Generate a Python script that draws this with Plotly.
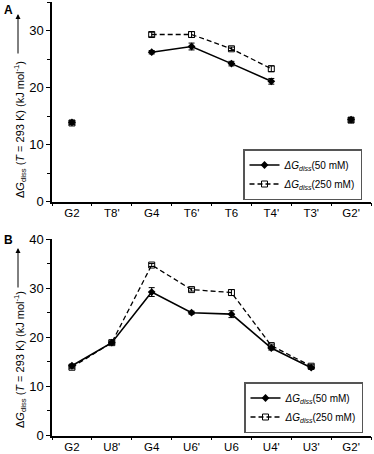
import plotly.graph_objects as go

# ---- data ----
cats_a = ["G2", "T8'", "G4", "T6'", "T6", "T4'", "T3'", "G2'"]
a_50 = [13.9, None, 26.2, 27.2, 24.2, 21.1, None, 14.4]
a_50_err = [0.3, None, 0.3, 0.6, 0.4, 0.5, None, 0.3]
a_250 = [13.8, None, 29.3, 29.3, 26.8, 23.3, None, 14.3]
a_250_err = [0.3, None, 0.4, 0.5, 0.3, 0.5, None, 0.4]

cats_b = ["G2", "U8'", "G4", "U6'", "U6", "U4'", "U3'", "G2'"]
b_50 = [14.2, 18.9, 29.2, 25.0, 24.7, 17.8, 13.8, None]
b_50_err = [0.3, 0.3, 0.9, 0.3, 0.7, 0.4, 0.3, None]
b_250 = [13.9, 18.9, 34.7, 29.7, 29.1, 18.3, 14.1, None]
b_250_err = [0.3, 0.3, 0.3, 0.3, 0.6, 0.3, 0.3, None]

yticks_a = [0, 10, 20, 30]
yticks_b = [0, 10, 20, 30, 40]

name_50 = "<i>ΔG</i><sub><i>diss</i></sub>(50 mM)"
name_250 = "<i>ΔG</i><sub><i>diss</i></sub>(250 mM)"
ytitle = "Δ<i>G</i><sub>diss</sub> (<i>T</i> = 293 K) (kJ mol<sup>-1</sup>)"

FONT = "Liberation Sans, Arial, sans-serif"
W, H = 374, 454

def px_x(p):
    return p / W

def px_y(p):
    return 1 - p / H

fig = go.Figure()

def add_pair(cats, v50, e50, v250, e250, xa, ya, leg):
    fig.add_trace(go.Scatter(
        x=cats, y=v50, name=name_50, mode="lines+markers",
        line=dict(color="black", width=1.6),
        marker=dict(symbol="diamond", size=6, color="black"),
        error_y=dict(type="data", array=e50, color="black", thickness=1, width=3),
        xaxis=xa, yaxis=ya, legend=leg, connectgaps=False,
    ))
    fig.add_trace(go.Scatter(
        x=cats, y=v250, name=name_250, mode="lines+markers",
        line=dict(color="black", width=1.3, dash="5px,3px"),
        marker=dict(symbol="square-open", size=6, color="black", line=dict(width=1)),
        error_y=dict(type="data", array=e250, color="black", thickness=1, width=3),
        xaxis=xa, yaxis=ya, legend=leg, connectgaps=False,
    ))

add_pair(cats_a, a_50, a_50_err, a_250, a_250_err, "x", "y", "legend")
add_pair(cats_b, b_50, b_50_err, b_250, b_250_err, "x2", "y2", "legend2")

xdom = [px_x(52), px_x(371)]

def xaxis(cats, anchor):
    return dict(
        domain=xdom, anchor=anchor, type="category", categoryorder="array",
        categoryarray=cats, range=[-0.5, 7.5], showline=True, linecolor="black",
        linewidth=1.5, ticks="outside", tickson="boundaries", ticklen=3,
        tickwidth=1, tickcolor="black", showgrid=False, zeroline=False,
        automargin=False,
        tickfont=dict(family=FONT, size=11.5, color="black"),
    )

def yaxis(rng, tv, dom, anchor):
    return dict(
        domain=dom, anchor=anchor, range=rng, tickvals=tv, showline=True,
        linecolor="black", linewidth=1.5, ticks="outside", ticklen=4,
        tickwidth=1, tickcolor="black", showgrid=False, zeroline=False,
        automargin=False,
        minor=dict(dtick=5, tick0=0, ticks="outside", ticklen=3, tickcolor="black", tickwidth=1),
        tickfont=dict(family=FONT, size=13, color="black"),
    )

legend_style = dict(
    bgcolor="white", bordercolor="#555555", borderwidth=1.5,
    font=dict(family=FONT, size=10, color="black"),
    xanchor="right", yanchor="top", tracegroupgap=0, itemwidth=30,
)

fig.update_layout(
    width=W, height=H, margin=dict(l=0, r=0, t=0, b=0, autoexpand=False),
    paper_bgcolor="white", plot_bgcolor="white",
    font=dict(family=FONT, color="black"),
    xaxis=xaxis(cats_a, "y"),
    yaxis=yaxis([0, 35], yticks_a, [px_y(201.7), px_y(2)], "x"),
    xaxis2=xaxis(cats_b, "y2"),
    yaxis2=yaxis([0, 40], yticks_b, [px_y(435.5), px_y(239)], "x2"),
    legend=dict(x=px_x(362), y=px_y(149), **legend_style),
    legend2=dict(x=px_x(363), y=px_y(382), **legend_style),
    showlegend=True,
)

ann = []
# panel letters
ann.append(dict(text="<b>A</b>", x=px_x(2), y=px_y(1), xref="paper", yref="paper",
                xanchor="left", yanchor="top", showarrow=False,
                font=dict(family=FONT, size=12, color="black")))
ann.append(dict(text="<b>B</b>", x=px_x(2), y=px_y(231), xref="paper", yref="paper",
                xanchor="left", yanchor="top", showarrow=False,
                font=dict(family=FONT, size=12, color="black")))
# y titles
for cy in (130, 360):
    ann.append(dict(text=ytitle, x=px_x(20), y=px_y(cy), xref="paper", yref="paper",
                    xanchor="center", yanchor="middle", textangle=-90, showarrow=False,
                    font=dict(family=FONT, size=11, color="black")))
# arrows
for tip, tail in ((14, 55), (248, 289)):
    ann.append(dict(text="", x=px_x(18), y=px_y(tip), xref="paper", yref="paper",
                    ax=0, ay=tail - tip, showarrow=True, arrowhead=2, arrowsize=1,
                    arrowwidth=1, arrowcolor="black"))
fig.update_layout(annotations=ann)

fig.write_html(
    "out.html",
    config={"displayModeBar": False},
    post_script="document.body.style.margin='0';document.body.style.overflow='hidden';",
)
